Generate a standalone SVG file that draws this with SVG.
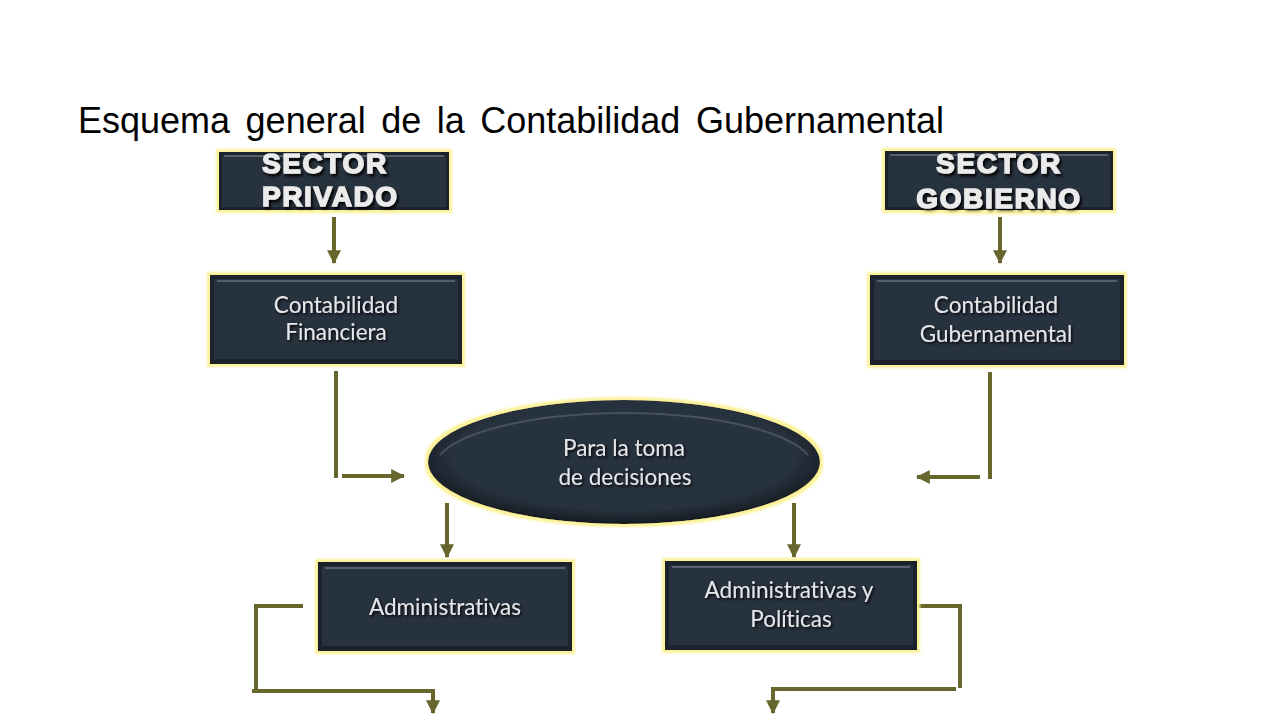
<svg xmlns="http://www.w3.org/2000/svg" width="1280" height="720" viewBox="0 0 1280 720">
<defs>
<style>
.title{font-family:"Liberation Sans",Arial,sans-serif;font-size:36px;fill:#000;}
.big{font-family:"Liberation Sans",Arial,sans-serif;font-weight:bold;font-size:28px;fill:#ebebeb;stroke:#ebebeb;stroke-width:1.4px;letter-spacing:1.6px;}
.lbl{font-family:Lato,"Noto Sans",sans-serif;font-size:22.5px;fill:#e4e6ea;text-anchor:middle;font-variant-ligatures:none;}
.box{fill:#1b2129;}
.inner{fill:#27303c;}
.hl{stroke:#56606d;stroke-width:2;fill:none;}
.con{stroke:#66662d;stroke-width:4;fill:none;}
.arr{stroke:#66662d;stroke-width:4;fill:none;marker-end:url(#ah);}
</style>
<marker id="ah" markerUnits="userSpaceOnUse" markerWidth="14" markerHeight="14" viewBox="0 0 12 12" refX="11" refY="6" orient="auto">
<path d="M0,0 L12,6 L0,12 z" fill="#66662d"/>
</marker>
<filter id="glow" x="-10%" y="-20%" width="120%" height="140%">
<feMorphology in="SourceAlpha" operator="dilate" radius="3" result="d"/>
<feGaussianBlur in="d" stdDeviation="1.2" result="b"/>
<feFlood flood-color="#fbf29a"/>
<feComposite in2="b" operator="in" result="g"/>
<feMerge><feMergeNode in="g"/><feMergeNode in="SourceGraphic"/></feMerge>
</filter>
<filter id="ts" x="-10%" y="-20%" width="120%" height="140%">
<feDropShadow dx="1.5" dy="1.5" stdDeviation="0.8" flood-color="#000" flood-opacity="0.8"/>
</filter>
<filter id="ts2" x="-10%" y="-20%" width="120%" height="150%">
<feDropShadow dx="2" dy="2.5" stdDeviation="1" flood-color="#000" flood-opacity="0.9"/>
</filter>
<radialGradient id="eg" cx="50%" cy="45%" r="55%">
<stop offset="0.8" stop-color="#27303c"/>
<stop offset="1" stop-color="#161b22"/>
</radialGradient>
</defs>

<text class="title" x="78" y="133" word-spacing="5.5">Esquema general de la Contabilidad  Gubernamental</text>

<g id="connectors">
<line class="arr" x1="334" y1="217" x2="334" y2="263"/>
<line class="arr" x1="1000" y1="217" x2="1000" y2="263"/>
<line class="con" x1="336" y1="371" x2="336" y2="478"/>
<line class="arr" x1="342" y1="476" x2="404" y2="476"/>
<line class="con" x1="990" y1="372" x2="990" y2="479"/>
<line class="arr" x1="980" y1="477" x2="917" y2="477"/>
<line class="arr" x1="447" y1="503" x2="447" y2="557"/>
<line class="arr" x1="794" y1="503" x2="794" y2="557"/>
<polyline class="con" points="303,606 256,606 256,692"/>
<polyline class="arr" points="252,691 433,691 433,713"/>
<polyline class="con" points="913,606 960,606 960,688"/>
<polyline class="arr" points="956,689 773,689 773,713"/>
</g>

<g id="sector-privado" filter="url(#glow)">
<rect class="box" x="219" y="152" width="230" height="58"/>
<rect class="inner" x="222" y="155" width="224" height="52"/>
<line class="hl" x1="224" y1="156" x2="444" y2="156"/>
<text class="big" x="262" y="173" filter="url(#ts2)">SECTOR</text>
<text class="big" x="262" y="206" filter="url(#ts2)">PRIVADO</text>
</g>

<g id="sector-gobierno" filter="url(#glow)">
<rect class="box" x="885" y="151" width="228" height="59"/>
<rect class="inner" x="888" y="154" width="222" height="53"/>
<line class="hl" x1="890" y1="155" x2="1108" y2="155"/>
<text class="big" x="999" y="173" text-anchor="middle" filter="url(#ts2)">SECTOR</text>
<text class="big" x="999" y="208" text-anchor="middle" filter="url(#ts2)">GOBIERNO</text>
</g>

<g id="contabilidad-financiera" filter="url(#glow)">
<rect class="box" x="210" y="275" width="252" height="89"/>
<rect class="inner" x="214" y="279" width="244" height="80"/>
<line class="hl" x1="217" y1="281" x2="455" y2="281"/>
<text class="lbl" x="336" y="313" filter="url(#ts)">Contabilidad</text>
<text class="lbl" x="336" y="340" filter="url(#ts)">Financiera</text>
</g>

<g id="contabilidad-gubernamental" filter="url(#glow)">
<rect class="box" x="870" y="275" width="254" height="90"/>
<rect class="inner" x="874" y="279" width="246" height="81"/>
<line class="hl" x1="877" y1="281" x2="1117" y2="281"/>
<text class="lbl" x="996" y="313" filter="url(#ts)">Contabilidad</text>
<text class="lbl" x="996" y="342" filter="url(#ts)">Gubernamental</text>
</g>

<g id="toma-decisiones" filter="url(#glow)">
<ellipse cx="624" cy="462" rx="196" ry="62" fill="url(#eg)"/>
<path d="M440,455 A190,56 0 0 1 808,455" class="hl" stroke-opacity="0.7"/>
<text class="lbl" x="624" y="456" filter="url(#ts)">Para la toma</text>
<text class="lbl" x="625" y="485" filter="url(#ts)">de decisiones</text>
</g>

<g id="administrativas" filter="url(#glow)">
<rect class="box" x="318" y="562" width="254" height="89"/>
<rect class="inner" x="322" y="566" width="246" height="80"/>
<line class="hl" x1="325" y1="568" x2="565" y2="568"/>
<text class="lbl" x="445" y="615" filter="url(#ts)">Administrativas</text>
</g>

<g id="administrativas-politicas" filter="url(#glow)">
<rect class="box" x="665" y="561" width="252" height="89"/>
<rect class="inner" x="669" y="565" width="244" height="80"/>
<line class="hl" x1="672" y1="567" x2="910" y2="567"/>
<text class="lbl" x="789" y="598" filter="url(#ts)">Administrativas y</text>
<text class="lbl" x="791" y="627" filter="url(#ts)">Políticas</text>
</g>
</svg>
